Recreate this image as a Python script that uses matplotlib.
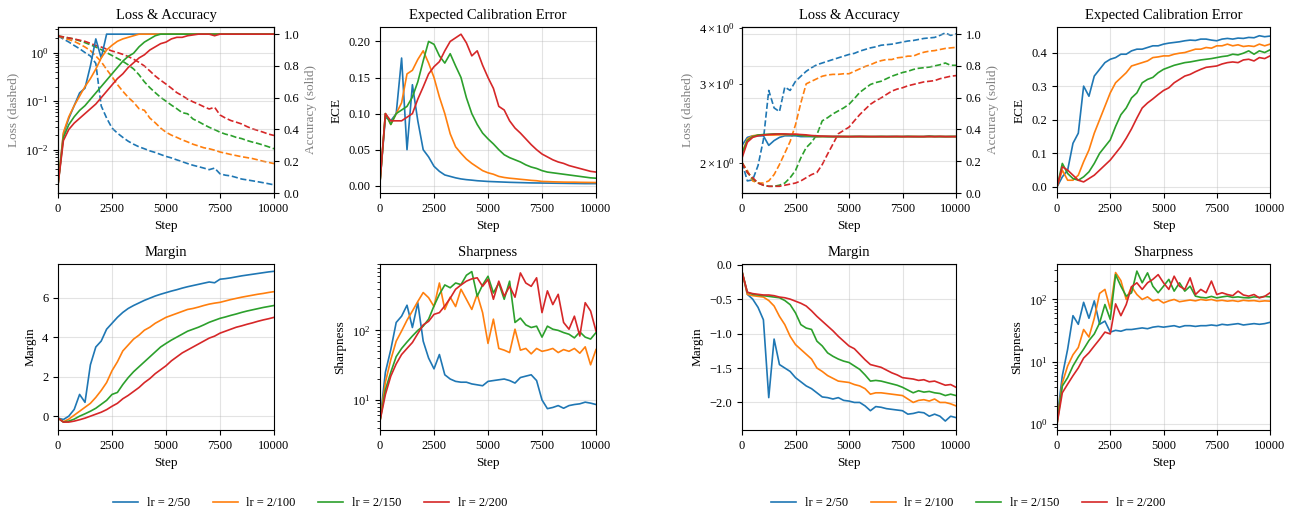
import matplotlib
matplotlib.use("Agg")
import matplotlib.pyplot as plt

plt.rcParams['font.family'] = ['Liberation Serif', 'DejaVu Serif']
plt.rcParams['mathtext.fontset'] = 'stix'

# ---------------- data ----------------
STEPS = [0, 250, 500, 750, 1000, 1250, 1500, 1750, 2000, 2250, 2500, 2750, 3000, 3250,
         3500, 3750, 4000, 4250, 4500, 4750, 5000, 5250, 5500, 5750, 6000, 6250, 6500,
         6750, 7000, 7250, 7500, 7750, 8000, 8250, 8500, 8750, 9000, 9250, 9500, 9750, 10000]
LABELS = ["lr = 2/50", "lr = 2/100", "lr = 2/150", "lr = 2/200"]
COLORS = ["#1f77b4", "#ff7f0e", "#2ca02c", "#d62728"]
XTICKS = [0, 2500, 5000, 7500, 10000]

# ---- left group ----
L1_LOSS_50 = [2.2, 1.9, 1.65, 1.4, 1.2, 1.0, 0.85, 0.6, 0.08, 0.045,
              0.028, 0.022, 0.018, 0.015, 0.013, 0.0115, 0.0105, 0.0095, 0.0088, 0.008,
              0.0073, 0.0068, 0.0062, 0.0057, 0.0052, 0.0048, 0.0045, 0.0042, 0.0039, 0.0042,
              0.0032, 0.003, 0.0029, 0.0027, 0.0025, 0.0024, 0.0023, 0.0022, 0.0021, 0.002, 0.0019]
L1_LOSS_100 = [2.2, 2.0, 1.85, 1.7, 1.5, 1.3, 1.1, 0.85, 0.65, 0.45,
               0.32, 0.22, 0.16, 0.12, 0.095, 0.07, 0.065, 0.045, 0.036, 0.028,
               0.023, 0.02, 0.018, 0.016, 0.0145, 0.013, 0.012, 0.011, 0.0105, 0.0098,
               0.009, 0.0085, 0.008, 0.0076, 0.0072, 0.0069, 0.0066, 0.0062, 0.0058, 0.0055, 0.0052]
L1_LOSS_150 = [2.2, 2.1, 2.0, 1.9, 1.75, 1.6, 1.45, 1.3, 1.15, 1.0,
               0.87, 0.76, 0.66, 0.56, 0.46, 0.35, 0.25, 0.19, 0.15, 0.12,
               0.1, 0.083, 0.07, 0.058, 0.055, 0.043, 0.038, 0.033, 0.029, 0.026,
               0.023, 0.021, 0.0197, 0.018, 0.017, 0.0155, 0.0144, 0.0135, 0.0125, 0.0115, 0.0105]
L1_LOSS_200 = [2.2, 2.1, 2.0, 1.9, 1.8, 1.7, 1.55, 1.4, 1.3, 1.18,
               1.08, 1.0, 0.92, 0.83, 0.73, 0.63, 0.53, 0.42, 0.33, 0.27,
               0.225, 0.185, 0.15, 0.13, 0.11, 0.097, 0.087, 0.077, 0.069, 0.075,
               0.052, 0.045, 0.04, 0.037, 0.034, 0.03, 0.027, 0.025, 0.023, 0.021, 0.0197]

L1_ACC_50 = [0.05, 0.37, 0.47, 0.55, 0.63, 0.66, 0.8, 0.97, 0.85, 1.0,
             1.0, 1.0, 1.0, 1.0, 1.0, 1.0, 1.0, 1.0, 1.0, 1.0,
             1.0, 1.0, 1.0, 1.0, 1.0, 1.0, 1.0, 1.0, 1.0, 1.0,
             1.0, 1.0, 1.0, 1.0, 1.0, 1.0, 1.0, 1.0, 1.0, 1.0, 1.0]
L1_ACC_100 = [0.05, 0.38, 0.48, 0.55, 0.61, 0.67, 0.72, 0.78, 0.85, 0.9,
              0.93, 0.955, 0.97, 0.98, 0.99, 1.0, 1.0, 1.0, 1.0, 1.0,
              1.0, 1.0, 1.0, 1.0, 1.0, 1.0, 1.0, 1.0, 1.0, 1.0,
              1.0, 1.0, 1.0, 1.0, 1.0, 1.0, 1.0, 1.0, 1.0, 1.0, 1.0]
L1_ACC_150 = [0.05, 0.35, 0.43, 0.48, 0.52, 0.55, 0.59, 0.63, 0.67, 0.71,
              0.75, 0.79, 0.83, 0.86, 0.88, 0.92, 0.95, 0.97, 0.99, 1.0,
              1.0, 1.0, 1.0, 1.0, 1.0, 1.0, 1.0, 1.0, 1.0, 1.0,
              1.0, 1.0, 1.0, 1.0, 1.0, 1.0, 1.0, 1.0, 1.0, 1.0, 1.0]
L1_ACC_200 = [0.05, 0.33, 0.4, 0.44, 0.47, 0.5, 0.53, 0.56, 0.6, 0.64,
              0.68, 0.72, 0.75, 0.79, 0.82, 0.85, 0.87, 0.9, 0.92, 0.94,
              0.95, 0.97, 0.98, 0.98, 0.99, 0.995, 1.0, 1.0, 1.0, 0.99,
              1.0, 1.0, 1.0, 1.0, 1.0, 1.0, 1.0, 1.0, 1.0, 1.0, 1.0]

L1_ECE_50 = [0.005, 0.095, 0.09, 0.1, 0.177, 0.05, 0.14, 0.09, 0.05, 0.04,
             0.027, 0.02, 0.015, 0.013, 0.011, 0.0095, 0.0085, 0.0078, 0.007, 0.0065,
             0.006, 0.0057, 0.0054, 0.0051, 0.0048, 0.0046, 0.0044, 0.0042, 0.004, 0.0039,
             0.0038, 0.0037, 0.0036, 0.0035, 0.0034, 0.0033, 0.0032, 0.0031, 0.003, 0.003, 0.003]
L1_ECE_100 = [0.005, 0.1, 0.085, 0.1, 0.115, 0.155, 0.16, 0.175, 0.187, 0.17,
              0.15, 0.123, 0.1, 0.072, 0.054, 0.045, 0.037, 0.031, 0.026, 0.021,
              0.018, 0.016, 0.013, 0.0115, 0.0105, 0.0098, 0.009, 0.0083, 0.0075, 0.007,
              0.006, 0.0058, 0.0055, 0.0053, 0.0051, 0.005, 0.005, 0.0048, 0.0047, 0.0046, 0.0045]
L1_ECE_150 = [0.005, 0.1, 0.085, 0.1, 0.105, 0.11, 0.123, 0.144, 0.173, 0.2,
              0.196, 0.18, 0.17, 0.183, 0.166, 0.15, 0.122, 0.1, 0.085, 0.073,
              0.065, 0.058, 0.05, 0.043, 0.039, 0.036, 0.033, 0.029, 0.026, 0.024,
              0.021, 0.019, 0.018, 0.017, 0.016, 0.015, 0.014, 0.013, 0.012, 0.011, 0.0105]
L1_ECE_200 = [0.005, 0.1, 0.09, 0.09, 0.09, 0.095, 0.1, 0.12, 0.137, 0.155,
              0.165, 0.172, 0.187, 0.2, 0.205, 0.21, 0.198, 0.18, 0.187, 0.167,
              0.15, 0.135, 0.11, 0.105, 0.09, 0.08, 0.073, 0.065, 0.057, 0.05,
              0.044, 0.04, 0.036, 0.033, 0.031, 0.028, 0.026, 0.024, 0.022, 0.02, 0.019]

L1_MARGIN_50 = [-0.1, -0.17, 0.0, 0.34, 1.1, 0.7, 2.6, 3.5, 3.8, 4.4,
                4.7, 5.0, 5.25, 5.45, 5.6, 5.73, 5.86, 5.97, 6.08, 6.17,
                6.25, 6.33, 6.4, 6.48, 6.55, 6.61, 6.67, 6.73, 6.79, 6.75,
                6.93, 6.96, 7.0, 7.05, 7.1, 7.14, 7.18, 7.22, 7.26, 7.3, 7.33]
L1_MARGIN_100 = [-0.1, -0.28, -0.15, 0.05, 0.25, 0.45, 0.65, 0.95, 1.3, 1.7,
                 2.3, 2.75, 3.3, 3.6, 3.9, 4.1, 4.35, 4.5, 4.7, 4.85,
                 5.0, 5.1, 5.2, 5.3, 5.4, 5.45, 5.52, 5.6, 5.67, 5.72,
                 5.76, 5.83, 5.9, 5.96, 6.02, 6.07, 6.12, 6.17, 6.21, 6.26, 6.3]
L1_MARGIN_150 = [-0.1, -0.3, -0.25, -0.15, 0.0, 0.12, 0.25, 0.4, 0.6, 0.8,
                 1.1, 1.2, 1.6, 1.95, 2.25, 2.5, 2.75, 3.0, 3.25, 3.5,
                 3.68, 3.85, 4.0, 4.15, 4.3, 4.4, 4.5, 4.62, 4.75, 4.85,
                 4.95, 5.02, 5.1, 5.17, 5.25, 5.32, 5.38, 5.44, 5.5, 5.55, 5.6]
L1_MARGIN_200 = [-0.1, -0.3, -0.3, -0.25, -0.18, -0.1, 0.0, 0.1, 0.2, 0.33,
                 0.5, 0.65, 0.88, 1.05, 1.25, 1.45, 1.7, 1.9, 2.15, 2.35,
                 2.55, 2.8, 3.0, 3.2, 3.35, 3.5, 3.65, 3.8, 3.95, 4.05,
                 4.2, 4.3, 4.4, 4.5, 4.57, 4.65, 4.72, 4.8, 4.87, 4.93, 5.0]

L1_SHARP_50 = [5, 25, 53, 130, 160, 230, 110, 250, 70, 40,
               28, 45, 23, 20, 18.5, 18, 18, 17, 16.5, 16,
               18.5, 19, 19.5, 20, 19, 17.5, 21, 22, 23, 19,
               10, 7.5, 7.8, 8.3, 7.6, 8.3, 8.6, 8.8, 9.3, 9.0, 8.6]
L1_SHARP_100 = [5, 18, 38, 70, 98, 140, 190, 260, 350, 295,
                220, 480, 200, 300, 220, 390, 280, 200, 330, 180,
                65, 145, 55, 52, 48, 104, 52, 55, 46, 55,
                50, 52, 55, 48, 53, 50, 55, 47, 58, 32, 53]
L1_SHARP_150 = [5, 14, 25, 42, 55, 68, 83, 100, 115, 145,
                225, 330, 450, 410, 480, 455, 620, 700, 310, 450,
                600, 345, 480, 280, 510, 130, 150, 120, 110, 115,
                80, 115, 104, 100, 93, 88, 78, 95, 80, 75, 93]
L1_SHARP_200 = [5, 12, 22, 33, 45, 55, 67, 90, 120, 135,
                170, 180, 225, 290, 390, 450, 510, 550, 570, 430,
                540, 280, 510, 310, 430, 300, 670, 480, 430, 570,
                180, 370, 235, 330, 130, 104, 160, 83, 250, 190, 98]

# ---- right group ----
L2_LOSS_50 = [2.0, 1.82, 1.83, 1.97, 2.25, 2.9, 2.65, 2.6, 2.95, 2.9,
              3.04, 3.12, 3.2, 3.26, 3.31, 3.34, 3.37, 3.4, 3.43, 3.46,
              3.49, 3.51, 3.55, 3.58, 3.61, 3.63, 3.66, 3.67, 3.68, 3.7,
              3.72, 3.74, 3.75, 3.77, 3.79, 3.8, 3.81, 3.85, 3.9, 3.85, 3.88]
L2_LOSS_100 = [2.0, 1.92, 1.82, 1.8, 1.8, 1.82, 1.88, 1.98, 2.1, 2.23,
               2.43, 2.72, 3.0, 3.04, 3.08, 3.12, 3.14, 3.15, 3.15, 3.16,
               3.16, 3.2, 3.24, 3.28, 3.31, 3.35, 3.38, 3.4, 3.4, 3.43,
               3.44, 3.46, 3.46, 3.5, 3.53, 3.55, 3.56, 3.58, 3.6, 3.61, 3.62]
L2_LOSS_150 = [2.0, 1.9, 1.84, 1.8, 1.78, 1.77, 1.77, 1.78, 1.8, 1.85,
               1.92, 2.05, 2.16, 2.22, 2.31, 2.48, 2.52, 2.57, 2.61, 2.65,
               2.7, 2.78, 2.87, 2.93, 2.99, 3.02, 3.04, 3.08, 3.12, 3.15,
               3.18, 3.2, 3.23, 3.25, 3.26, 3.27, 3.29, 3.31, 3.34, 3.3, 3.3]
L2_LOSS_200 = [2.0, 1.9, 1.85, 1.8, 1.78, 1.77, 1.77, 1.77, 1.78, 1.79,
               1.8, 1.82, 1.85, 1.88, 1.9, 1.98, 2.09, 2.2, 2.32, 2.36,
               2.4, 2.48, 2.56, 2.63, 2.7, 2.75, 2.79, 2.84, 2.89, 2.92,
               2.94, 2.97, 2.99, 3.01, 3.03, 3.04, 3.05, 3.08, 3.1, 3.12, 3.13]

L2_ACC_50 = [0.3, 0.35, 0.36, 0.36, 0.36, 0.3, 0.33, 0.35, 0.36, 0.36,
             0.36, 0.355, 0.355, 0.355, 0.355, 0.356, 0.355, 0.355, 0.357, 0.355,
             0.355, 0.355, 0.356, 0.355, 0.355, 0.355, 0.355, 0.355, 0.356, 0.355,
             0.355, 0.356, 0.355, 0.355, 0.355, 0.36, 0.355, 0.356, 0.355, 0.355, 0.356]
L2_ACC_100 = [0.25, 0.34, 0.36, 0.365, 0.365, 0.365, 0.365, 0.366, 0.367, 0.368,
              0.37, 0.365, 0.36, 0.358, 0.355, 0.355, 0.356, 0.355, 0.355, 0.356,
              0.355, 0.355, 0.355, 0.356, 0.355, 0.355, 0.355, 0.355, 0.355, 0.355,
              0.355, 0.355, 0.356, 0.355, 0.355, 0.357, 0.355, 0.356, 0.355, 0.355, 0.356]
L2_ACC_150 = [0.25, 0.33, 0.355, 0.365, 0.368, 0.37, 0.372, 0.372, 0.37, 0.368,
              0.366, 0.362, 0.36, 0.357, 0.355, 0.356, 0.355, 0.355, 0.355, 0.355,
              0.355, 0.356, 0.355, 0.355, 0.355, 0.355, 0.356, 0.355, 0.355, 0.355,
              0.355, 0.356, 0.355, 0.355, 0.355, 0.355, 0.356, 0.355, 0.355, 0.356, 0.355]
L2_ACC_200 = [0.22, 0.32, 0.35, 0.36, 0.365, 0.368, 0.37, 0.372, 0.372, 0.37,
              0.37, 0.368, 0.366, 0.362, 0.36, 0.358, 0.357, 0.356, 0.355, 0.355,
              0.355, 0.355, 0.356, 0.355, 0.355, 0.355, 0.355, 0.355, 0.355, 0.356,
              0.355, 0.355, 0.355, 0.355, 0.355, 0.355, 0.355, 0.356, 0.355, 0.355, 0.355]

L2_ECE_50 = [0.0, 0.03, 0.05, 0.13, 0.16, 0.3, 0.27, 0.33, 0.35, 0.37,
             0.38, 0.385, 0.395, 0.395, 0.405, 0.41, 0.41, 0.415, 0.42, 0.42,
             0.425, 0.428, 0.43, 0.432, 0.435, 0.437, 0.436, 0.44, 0.44, 0.437,
             0.435, 0.44, 0.442, 0.44, 0.443, 0.442, 0.445, 0.444, 0.45, 0.447, 0.449]
L2_ECE_100 = [0.0, 0.05, 0.02, 0.02, 0.035, 0.075, 0.11, 0.16, 0.2, 0.24,
              0.28, 0.31, 0.325, 0.34, 0.36, 0.365, 0.37, 0.375, 0.385, 0.387,
              0.39, 0.39, 0.395, 0.398, 0.4, 0.405, 0.41, 0.41, 0.415, 0.413,
              0.42, 0.42, 0.425, 0.42, 0.423, 0.418, 0.42, 0.418, 0.425, 0.42, 0.425]
L2_ECE_150 = [0.0, 0.07, 0.04, 0.025, 0.02, 0.03, 0.045, 0.07, 0.1, 0.12,
              0.14, 0.18, 0.215, 0.235, 0.265, 0.28, 0.31, 0.32, 0.326, 0.34,
              0.35, 0.356, 0.362, 0.366, 0.37, 0.372, 0.375, 0.378, 0.38, 0.382,
              0.385, 0.388, 0.39, 0.395, 0.393, 0.398, 0.405, 0.395, 0.405, 0.4, 0.408]
L2_ECE_200 = [0.0, 0.06, 0.05, 0.035, 0.02, 0.015, 0.025, 0.035, 0.05, 0.065,
              0.08, 0.1, 0.12, 0.145, 0.173, 0.205, 0.235, 0.25, 0.262, 0.275,
              0.287, 0.295, 0.31, 0.32, 0.33, 0.335, 0.343, 0.35, 0.356, 0.358,
              0.36, 0.366, 0.37, 0.372, 0.37, 0.378, 0.38, 0.375, 0.385, 0.382, 0.39]

L2_MARGIN_50 = [-0.1, -0.43, -0.5, -0.62, -0.8, -1.93, -1.08, -1.45, -1.5, -1.55,
                -1.64, -1.7, -1.76, -1.8, -1.86, -1.92, -1.93, -1.95, -1.93, -1.97,
                -1.98, -2.0, -2.0, -2.05, -2.12, -2.06, -2.07, -2.09, -2.1, -2.11,
                -2.12, -2.17, -2.16, -2.14, -2.15, -2.2, -2.17, -2.2, -2.27, -2.2, -2.22]
L2_MARGIN_100 = [-0.1, -0.43, -0.45, -0.46, -0.47, -0.52, -0.6, -0.75, -0.87, -1.04,
                 -1.16, -1.23, -1.3, -1.37, -1.5, -1.55, -1.61, -1.65, -1.69, -1.7,
                 -1.71, -1.74, -1.76, -1.8, -1.88, -1.86, -1.86, -1.87, -1.88, -1.89,
                 -1.9, -1.95, -2.0, -1.97, -1.96, -1.98, -1.95, -2.0, -2.0, -2.02, -2.05]
L2_MARGIN_150 = [-0.1, -0.4, -0.43, -0.44, -0.45, -0.46, -0.47, -0.48, -0.52, -0.58,
                 -0.7, -0.87, -0.92, -0.94, -1.11, -1.18, -1.28, -1.33, -1.37, -1.4,
                 -1.42, -1.47, -1.52, -1.6, -1.69, -1.68, -1.69, -1.71, -1.73, -1.75,
                 -1.78, -1.82, -1.86, -1.83, -1.85, -1.84, -1.86, -1.87, -1.9, -1.88, -1.9]
L2_MARGIN_200 = [-0.1, -0.4, -0.42, -0.43, -0.44, -0.44, -0.45, -0.47, -0.48, -0.5,
                 -0.53, -0.56, -0.6, -0.67, -0.75, -0.82, -0.89, -0.96, -1.04, -1.11,
                 -1.18, -1.22, -1.3, -1.38, -1.45, -1.47, -1.49, -1.53, -1.57, -1.6,
                 -1.64, -1.65, -1.66, -1.68, -1.67, -1.7, -1.69, -1.72, -1.75, -1.74, -1.78]

L2_SHARP_50 = [1.2, 6, 16, 55, 40, 90, 50, 95, 40, 45,
               30, 32, 31, 33, 33, 34, 35, 34, 36, 37,
               36, 37, 38, 36, 38, 38, 37, 38, 38, 39,
               38, 40, 39, 40, 41, 39, 40, 41, 40, 41, 43]
L2_SHARP_100 = [1.1, 4.6, 8.6, 13, 17, 33, 25, 50, 125, 145,
                70, 270, 200, 100, 160, 120, 100, 110, 95, 100,
                88, 95, 100, 92, 95, 98, 95, 100, 97, 100,
                95, 97, 94, 96, 93, 97, 95, 96, 93, 95, 94]
L2_SHARP_150 = [1.0, 4.1, 5.6, 8.6, 12, 16, 22, 28, 42, 83,
                48, 250, 163, 113, 128, 285, 185, 267, 163, 128,
                163, 210, 136, 185, 136, 163, 113, 108, 106, 112,
                106, 110, 113, 108, 110, 107, 106, 110, 108, 112, 110]
L2_SHARP_200 = [1.0, 3.2, 4.4, 6, 8, 11.5, 14, 18, 23, 30,
                28, 85, 55, 83, 160, 185, 145, 185, 210, 250,
                185, 145, 236, 163, 145, 222, 120, 145, 128, 197,
                120, 128, 120, 115, 136, 118, 113, 120, 106, 112, 128]

# ---------------- layout ----------------
W, H = 1294, 516
fig = plt.figure(figsize=(W / 100, H / 100), dpi=100)

COL_X = [58, 380, 742, 1057]
COL_W = [216, 216, 214, 213]
ROW_TOP = [27, 264]
AX_H = 166

TITLE_FS = 10.5
LABEL_FS = 9.5
TICK_FS = 9
LW = 1.2
GREY = "#808080"


def make_ax(col, row):
    x, w = COL_X[col], COL_W[col]
    top = ROW_TOP[row]
    ax = fig.add_axes([x / W, 1 - (top + AX_H) / H, w / W, AX_H / H])
    ax.set_xlim(0, 10000)
    ax.set_xticks(XTICKS)
    ax.tick_params(labelsize=TICK_FS)
    ax.grid(True, color="#b0b0b0", alpha=0.35, linewidth=0.8)
    ax.set_xlabel("Step", fontsize=LABEL_FS)
    return ax


def plot_lines(ax, series, style="-"):
    lines = []
    for vals, col, lab in zip(series, COLORS, LABELS):
        ln, = ax.plot(STEPS, vals, color=col, lw=LW, linestyle=style, label=lab)
        lines.append(ln)
    return lines


def loss_acc(col, loss_series, acc_series, ylim):
    ax = make_ax(col, 0)
    ax.set_yscale("log")
    plot_lines(ax, loss_series, "--")
    ax.set_ylim(*ylim)
    ax.set_ylabel("Loss (dashed)", fontsize=LABEL_FS, color=GREY)
    ax.tick_params(which="both", labelsize=TICK_FS)
    ax2 = ax.twinx()
    plot_lines(ax2, acc_series, "-")
    ax2.set_ylim(0, 1.045)
    ax2.set_yticks([0.0, 0.2, 0.4, 0.6, 0.8, 1.0])
    ax2.set_ylabel("Accuracy (solid)", fontsize=LABEL_FS, color=GREY)
    ax2.tick_params(labelsize=TICK_FS)
    ax2.grid(True, color="#b0b0b0", alpha=0.35, linewidth=0.8)
    ax.set_title("Loss & Accuracy", fontsize=TITLE_FS)
    return ax


def simple(col, row, series, title, ylabel, ylim, log=False):
    ax = make_ax(col, row)
    if log:
        ax.set_yscale("log")
    lines = plot_lines(ax, series)
    ax.set_ylim(*ylim)
    ax.set_title(title, fontsize=TITLE_FS)
    ax.set_ylabel(ylabel, fontsize=LABEL_FS)
    ax.tick_params(which="both", labelsize=TICK_FS)
    return lines


# left group
loss_acc(0, [L1_LOSS_50, L1_LOSS_100, L1_LOSS_150, L1_LOSS_200],
         [L1_ACC_50, L1_ACC_100, L1_ACC_150, L1_ACC_200], (1.29e-3, 3.36))
simple(1, 0, [L1_ECE_50, L1_ECE_100, L1_ECE_150, L1_ECE_200],
       "Expected Calibration Error", "ECE", (-0.01, 0.22))
simple(0, 1, [L1_MARGIN_50, L1_MARGIN_100, L1_MARGIN_150, L1_MARGIN_200],
       "Margin", "Margin", (-0.7, 7.7))
handles = simple(1, 1, [L1_SHARP_50, L1_SHARP_100, L1_SHARP_150, L1_SHARP_200],
                 "Sharpness", "Sharpness", (3.7, 900), log=True)

# right group
loss_acc(2, [L2_LOSS_50, L2_LOSS_100, L2_LOSS_150, L2_LOSS_200],
         [L2_ACC_50, L2_ACC_100, L2_ACC_150, L2_ACC_200], (1.71, 4.02))
simple(3, 0, [L2_ECE_50, L2_ECE_100, L2_ECE_150, L2_ECE_200],
       "Expected Calibration Error", "ECE", (-0.018, 0.476))
simple(2, 1, [L2_MARGIN_50, L2_MARGIN_100, L2_MARGIN_150, L2_MARGIN_200],
       "Margin", "Margin", (-2.4, 0.01))
simple(3, 1, [L2_SHARP_50, L2_SHARP_100, L2_SHARP_150, L2_SHARP_200],
       "Sharpness", "Sharpness", (0.81, 370), log=True)

for cx in (310, 968):
    fig.legend(handles, LABELS, loc="center", bbox_to_anchor=(cx / W, 1 - 503 / H),
               ncol=4, frameon=False, fontsize=9, handlelength=2.0,
               handletextpad=0.7, columnspacing=1.8)

fig.savefig("out.png", dpi=100)
